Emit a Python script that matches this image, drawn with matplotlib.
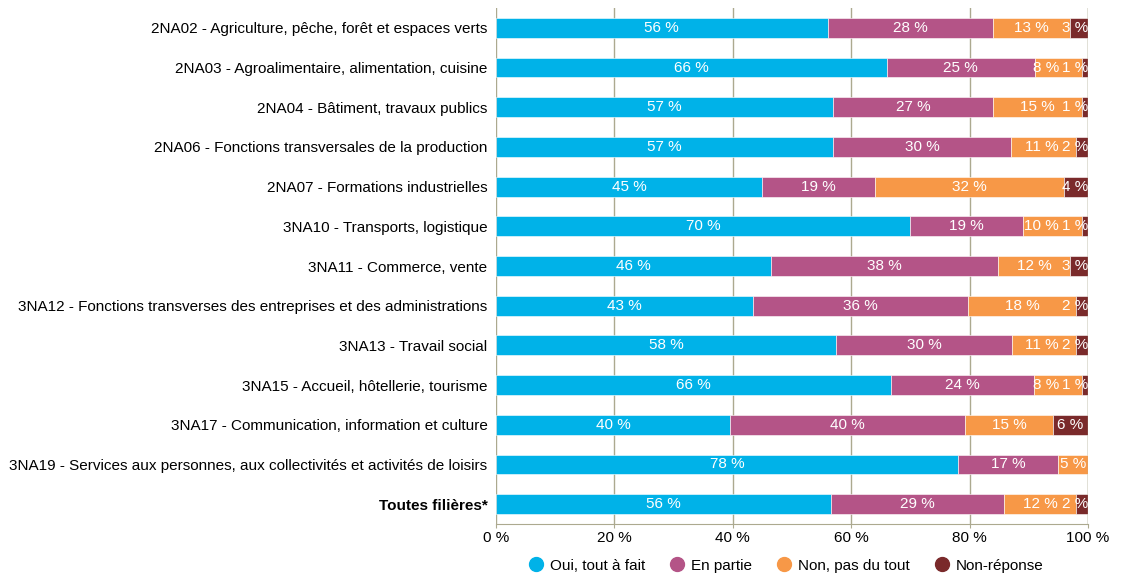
"""Stacked 100% bar chart: satisfaction by filière."""

import matplotlib.pyplot as plt
import numpy as np
from matplotlib.lines import Line2D

plt.rcParams["font.family"] = ["Liberation Sans", "DejaVu Sans"]

categories = [
    "2NA02 - Agriculture, pêche, forêt et espaces verts",
    "2NA03 - Agroalimentaire, alimentation, cuisine",
    "2NA04 - Bâtiment, travaux publics",
    "2NA06 - Fonctions transversales de la production",
    "2NA07 - Formations industrielles",
    "3NA10 - Transports, logistique",
    "3NA11 - Commerce, vente",
    "3NA12 - Fonctions transverses des entreprises et des administrations",
    "3NA13 - Travail social",
    "3NA15 - Accueil, hôtellerie, tourisme",
    "3NA17 - Communication, information et culture",
    "3NA19 - Services aux personnes, aux collectivités et activités de loisirs",
    "Toutes filières*",
]
series_names = ["Oui, tout à fait", "En partie", "Non, pas du tout", "Non-réponse"]
oui = [56, 66, 57, 57, 45, 70, 46, 43, 58, 66, 40, 78, 56]
partie = [28, 25, 27, 30, 19, 19, 38, 36, 30, 24, 40, 17, 29]
non = [13, 8, 15, 11, 32, 10, 12, 18, 11, 8, 15, 5, 12]
nr = [3, 1, 1, 2, 4, 1, 3, 2, 2, 1, 6, 0, 2]
colors = ["#00b2e8", "#b45487", "#f79847", "#7a2a2b"]
grid_color = "#aca98f"

values = np.array([oui, partie, non, nr], dtype=float)
shares = values / values.sum(axis=0) * 100

fig = plt.figure(figsize=(11.31, 5.73), dpi=100)
ax = fig.add_axes([0.4385, 0.0855, 0.5235, 0.9005])

y = np.arange(len(categories))
left = np.zeros(len(categories))
row_texts = [[] for _ in categories]
for i, name in enumerate(series_names):
    ax.barh(y, shares[i], left=left, height=0.5, color=colors[i],
            edgecolor="white", linewidth=0.4, label=name, zorder=2)
    for j in range(len(categories)):
        if values[i, j] > 0:
            t = ax.text(left[j] + shares[i, j] / 2, y[j], f"{int(values[i, j])} %",
                        ha="center", va="center", color="white", fontsize=11, zorder=3)
            row_texts[j].append(t)
    left += shares[i]

ax.set_xlim(0, 100)
ax.set_ylim(len(categories) - 0.5, -0.5)
ax.set_yticks(y)
ax.set_yticklabels(categories, fontsize=11)
ax.get_yticklabels()[-1].set_fontweight("bold")
ax.set_xticks(np.arange(0, 101, 20))
ax.set_xticklabels([f"{v} %" for v in range(0, 101, 20)], fontsize=11)
ax.tick_params(axis="y", length=0, pad=6)
ax.tick_params(axis="x", length=3, color=grid_color, pad=2)
ax.grid(axis="x", color=grid_color, linewidth=1, zorder=0)
ax.set_axisbelow(True)
# the 100 % line sits on top of the bar ends in the source chart
ax.axvline(100, color=grid_color, linewidth=1, zorder=4)
for side in ["top", "right", "left"]:
    ax.spines[side].set_visible(False)
ax.spines["bottom"].set_color(grid_color)

# push crowded labels left so they stay inside the plot and do not collide
renderer = fig.canvas.get_renderer()
px_per_unit = ax.transData.transform((1, 0))[0] - ax.transData.transform((0, 0))[0]
gap = 3 / px_per_unit
for texts in row_texts:
    limit = 100.0
    for t in reversed(texts):
        half = t.get_window_extent(renderer).width / 2 / px_per_unit
        x = min(t.get_position()[0], limit - half)
        t.set_x(x)
        limit = x - half - gap

handles = [Line2D([], [], marker="o", linestyle="none", markersize=10,
                  markerfacecolor=c, markeredgecolor=c) for c in colors]
fig.legend(handles, series_names, loc="center", bbox_to_anchor=(0.695, 0.013),
           ncol=4, frameon=False, fontsize=11, handlelength=1.0,
           handletextpad=0.4, columnspacing=1.6)

fig.savefig("out.png", dpi=100)
